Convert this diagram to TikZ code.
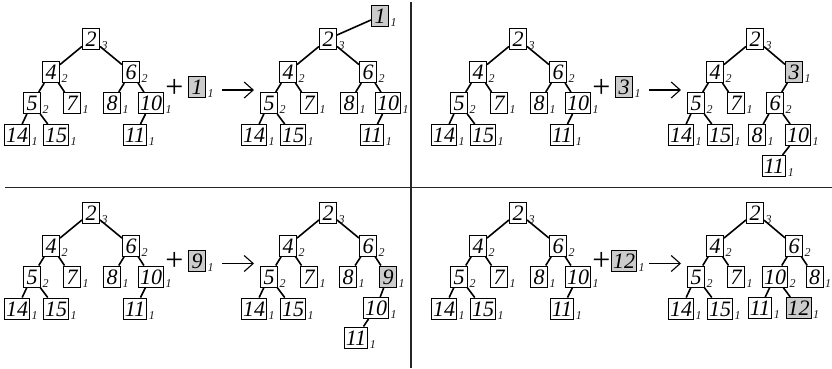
\documentclass[tikz,border=0pt]{standalone}
\usepackage{fontspec}
\setmainfont{Liberation Serif}
\usetikzlibrary{arrows.meta}
\newcommand{\numf}{\fontsize{22}{22}\selectfont\itshape}
\newcommand{\subf}{\fontsize{12}{12}\selectfont\itshape}
\newcommand{\plusf}{\fontsize{32}{32}\selectfont}
\tikzset{
  nd/.style={draw, line width=1pt, minimum width=17pt, minimum height=21pt,
    inner xsep=1.5pt, inner ysep=0pt, text height=15.5pt, text depth=0pt, font=\numf},
  hl/.style={nd, fill=black!20},
  sublab/.style={anchor=base west, inner sep=0pt, xshift=1.5pt, yshift=0.5pt, font=\subf, text=black!90},
  edge/.style={line width=1.6pt},
  plusn/.style={inner sep=0pt, font=\plusf},
  arr/.style={line width=1.1pt, -{Straight Barb[length=9pt,width=16pt,line width=1.1pt]}},
  divider/.style={line width=1.3pt, draw=black!85}
}
\newcommand{\mynode}[5]{\node[#1,label={[sublab]south east:#5}] (#2) at (#3) {#4};}
\newcommand{\basetree}[3]{%
\begin{scope}[shift={(#2,#3)}]
\mynode{nd}{#1n2}{91,39}{2}{3}
\mynode{nd}{#1n4}{51,72}{4}{2}
\mynode{nd}{#1n6}{131,72}{6}{2}
\mynode{nd}{#1n5}{32,103}{5}{2}
\mynode{nd}{#1n7}{72,103}{7}{1}
\mynode{nd}{#1n8}{112,103}{8}{1}
\mynode{nd}{#1n10}{151,103}{10}{1}
\mynode{nd}{#1n14}{17,135}{14}{1}
\mynode{nd}{#1n15}{56,135}{15}{1}
\mynode{nd}{#1n11}{135,135}{11}{1}
\draw[edge] (#1n2)--(#1n4); \draw[edge] (#1n2)--(#1n6);
\draw[edge] (#1n4)--(#1n5); \draw[edge] (#1n4)--(#1n7);
\draw[edge] (#1n5)--(#1n14); \draw[edge] (#1n5)--(#1n15);
\draw[edge] (#1n6)--(#1n8); \draw[edge] (#1n6)--(#1n10);
\draw[edge] (#1n10)--(#1n11);
\end{scope}}
% left part of result tree: 2,4,5,7,14,15
\newcommand{\leftpart}[3]{%
\begin{scope}[shift={(#2,#3)}]
\mynode{nd}{#1n2}{328,39}{2}{3}
\mynode{nd}{#1n4}{288,72}{4}{2}
\mynode{nd}{#1n5}{269,103}{5}{2}
\mynode{nd}{#1n7}{309,103}{7}{1}
\mynode{nd}{#1n14}{254,135}{14}{1}
\mynode{nd}{#1n15}{293,135}{15}{1}
\draw[edge] (#1n2)--(#1n4);
\draw[edge] (#1n4)--(#1n5); \draw[edge] (#1n4)--(#1n7);
\draw[edge] (#1n5)--(#1n14); \draw[edge] (#1n5)--(#1n15);
\end{scope}}
% plus, inserted key, arrow
\newcommand{\ins}[4]{%
\begin{scope}[shift={(#2,#3)}]
\node[plusn] (#1plus) at (174.5,88) {+};
\mynode{hl}{#1key}{197,87}{#4}{1}
\coordinate (#1as) at (222,90);
\coordinate (#1ae) at (254,90);
\draw[arr] (#1as)--(#1ae);
\end{scope}}
\begin{document}
\begin{tikzpicture}[x=1pt,y=-1pt]
\useasboundingbox (0,0) rectangle (832,368);
% dividers
\coordinate (vt) at (411,2); \coordinate (vb) at (411,368);
\coordinate (hl) at (5,187.5); \coordinate (hr) at (832,187.5);
\draw[divider] (vt)--(vb);
\draw[divider] (hl)--(hr);
% ---------------- top left
\basetree{a}{0}{0}
\ins{a}{0}{0}{1}
\leftpart{b}{0}{0}
\mynode{nd}{bn6}{368,72}{6}{2}
\mynode{nd}{bn8}{349,103}{8}{1}
\mynode{nd}{bn10}{388,103}{10}{1}
\mynode{nd}{bn11}{372,135}{11}{1}
\mynode{hl}{bn1}{380,16}{1}{1}
\draw[edge] (bn2)--(bn6); \draw[edge] (bn6)--(bn8); \draw[edge] (bn6)--(bn10);
\draw[edge] (bn10)--(bn11); \draw[edge] (bn2)--(bn1);
% ---------------- top right
\basetree{c}{427}{0}
\ins{c}{427}{0}{3}
\leftpart{d}{427}{0}
\mynode{hl}{dn3}{794,72}{3}{1}
\mynode{nd}{dn6}{775,103}{6}{2}
\mynode{nd}{dn8}{757,135}{8}{1}
\mynode{nd}{dn10}{798,135}{10}{1}
\mynode{nd}{dn11}{774,166}{11}{1}
\draw[edge] (dn2)--(dn3); \draw[edge] (dn3)--(dn6);
\draw[edge] (dn6)--(dn8); \draw[edge] (dn6)--(dn10); \draw[edge] (dn10)--(dn11);
% ---------------- bottom left
\basetree{e}{0}{173.5}
\ins{e}{0}{173.5}{9}
\leftpart{f}{0}{173.5}
\mynode{nd}{fn6}{368,245.5}{6}{2}
\mynode{nd}{fn8}{348,276.5}{8}{1}
\mynode{hl}{fn9}{388,276.5}{9}{1}
\mynode{nd}{fn10}{376,308}{10}{1}
\mynode{nd}{fn11}{356,337.5}{11}{1}
\draw[edge] (fn2)--(fn6); \draw[edge] (fn6)--(fn8); \draw[edge] (fn6)--(fn9);
\draw[edge] (fn9)--(fn10); \draw[edge] (fn10)--(fn11);
% ---------------- bottom right
\basetree{g}{427}{173.5}
\ins{g}{427}{173.5}{12}
\leftpart{h}{427}{173.5}
\mynode{nd}{hn6}{794,245.5}{6}{2}
\mynode{nd}{hn10}{775,276.5}{10}{2}
\mynode{nd}{hn8}{814.5,276.5}{8}{1}
\mynode{nd}{hn11}{760,308}{11}{1}
\mynode{hl}{hn12}{798.5,308}{12}{1}
\draw[edge] (hn2)--(hn6); \draw[edge] (hn6)--(hn10); \draw[edge] (hn6)--(hn8);
\draw[edge] (hn10)--(hn11); \draw[edge] (hn10)--(hn12);
\end{tikzpicture}
\end{document}
